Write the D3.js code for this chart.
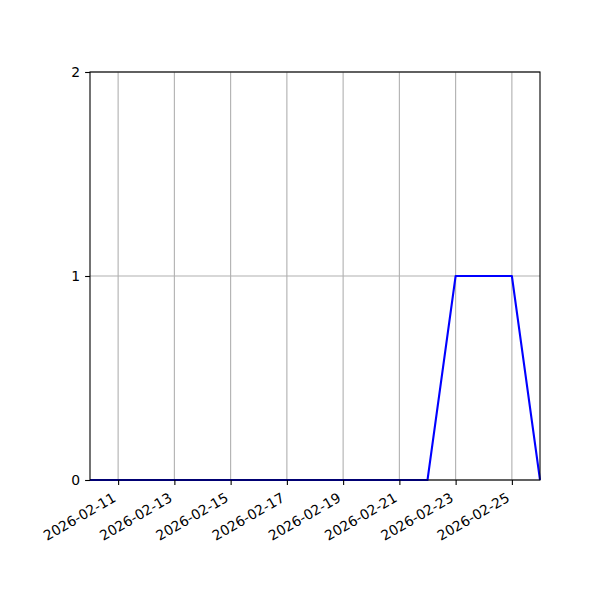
<!DOCTYPE html>
<html><head><meta charset="utf-8">
<script src="https://cdn.jsdelivr.net/npm/d3@7"></script>
<style>body{margin:0;background:#fff}svg{display:block}text{font-family:"DejaVu Sans",sans-serif}</style>
</head><body>
<script>
const dates = ["2026-02-10","2026-02-11","2026-02-12","2026-02-13","2026-02-14","2026-02-15","2026-02-16","2026-02-17","2026-02-18","2026-02-19","2026-02-20","2026-02-21","2026-02-22","2026-02-23","2026-02-24","2026-02-25","2026-02-26"];
const values = [0,0,0,0,0,0,0,0,0,0,0,0,0,1,1,1,0];
const xTicks = ["2026-02-11","2026-02-13","2026-02-15","2026-02-17","2026-02-19","2026-02-21","2026-02-23","2026-02-25"];
const yTicks = [0,1,2];

const parse = d3.utcParse("%Y-%m-%d");
const fmt = d3.utcFormat("%Y-%m-%d");
const W=600,H=600, L=90,R=540,T=72,B=480;
const svg = d3.select("body").append("svg").attr("width",W).attr("height",H);
const x = d3.scaleUtc().domain([parse(dates[0]), parse(dates[dates.length-1])]).range([L,R]);
const y = d3.scaleLinear().domain([0,2]).range([B,T]);

// grid
svg.append("g").selectAll("line").data(xTicks).join("line")
  .attr("x1",d=>x(parse(d))).attr("x2",d=>x(parse(d))).attr("y1",T).attr("y2",B)
  .attr("stroke","#b0b0b0").attr("stroke-width",1.1);
svg.append("g").selectAll("line").data(yTicks).join("line")
  .attr("x1",L).attr("x2",R).attr("y1",d=>y(d)).attr("y2",d=>y(d))
  .attr("stroke","#b0b0b0").attr("stroke-width",1.1);

// line
const line = d3.line().x((d,i)=>x(parse(dates[i]))).y(d=>y(d));
svg.append("path").datum(values).attr("d",line).attr("fill","none")
  .attr("stroke","#0000ff").attr("stroke-width",2.08).attr("stroke-linejoin","round");

// axes
const xa = svg.append("g").attr("transform",`translate(0,${B})`)
  .call(d3.axisBottom(x).tickValues(xTicks.map(parse)).tickFormat(fmt).tickSizeInner(4.9).tickSizeOuter(0).tickPadding(4));
xa.select(".domain").remove();
xa.selectAll("line").attr("stroke","#000").attr("stroke-width",1.1);
xa.selectAll("text").attr("font-size","13.9px").attr("fill","#000")
  .attr("text-anchor","end").attr("y",0).attr("dy",0).attr("dx",0)
  .attr("transform","translate(-1.7,20.6) rotate(-30)");

const ya = svg.append("g").attr("transform",`translate(${L},0)`)
  .call(d3.axisLeft(y).tickValues(yTicks).tickFormat(d3.format("d")).tickSizeInner(4.9).tickSizeOuter(0).tickPadding(4.9));
ya.select(".domain").remove();
ya.selectAll("line").attr("stroke","#000").attr("stroke-width",1.1);
ya.selectAll("text").attr("font-size","13.9px").attr("fill","#000");

svg.append("rect").attr("x",L).attr("y",T).attr("width",R-L).attr("height",B-T)
  .attr("fill","none").attr("stroke","#000").attr("stroke-width",1.1);
</script>
</body></html>
